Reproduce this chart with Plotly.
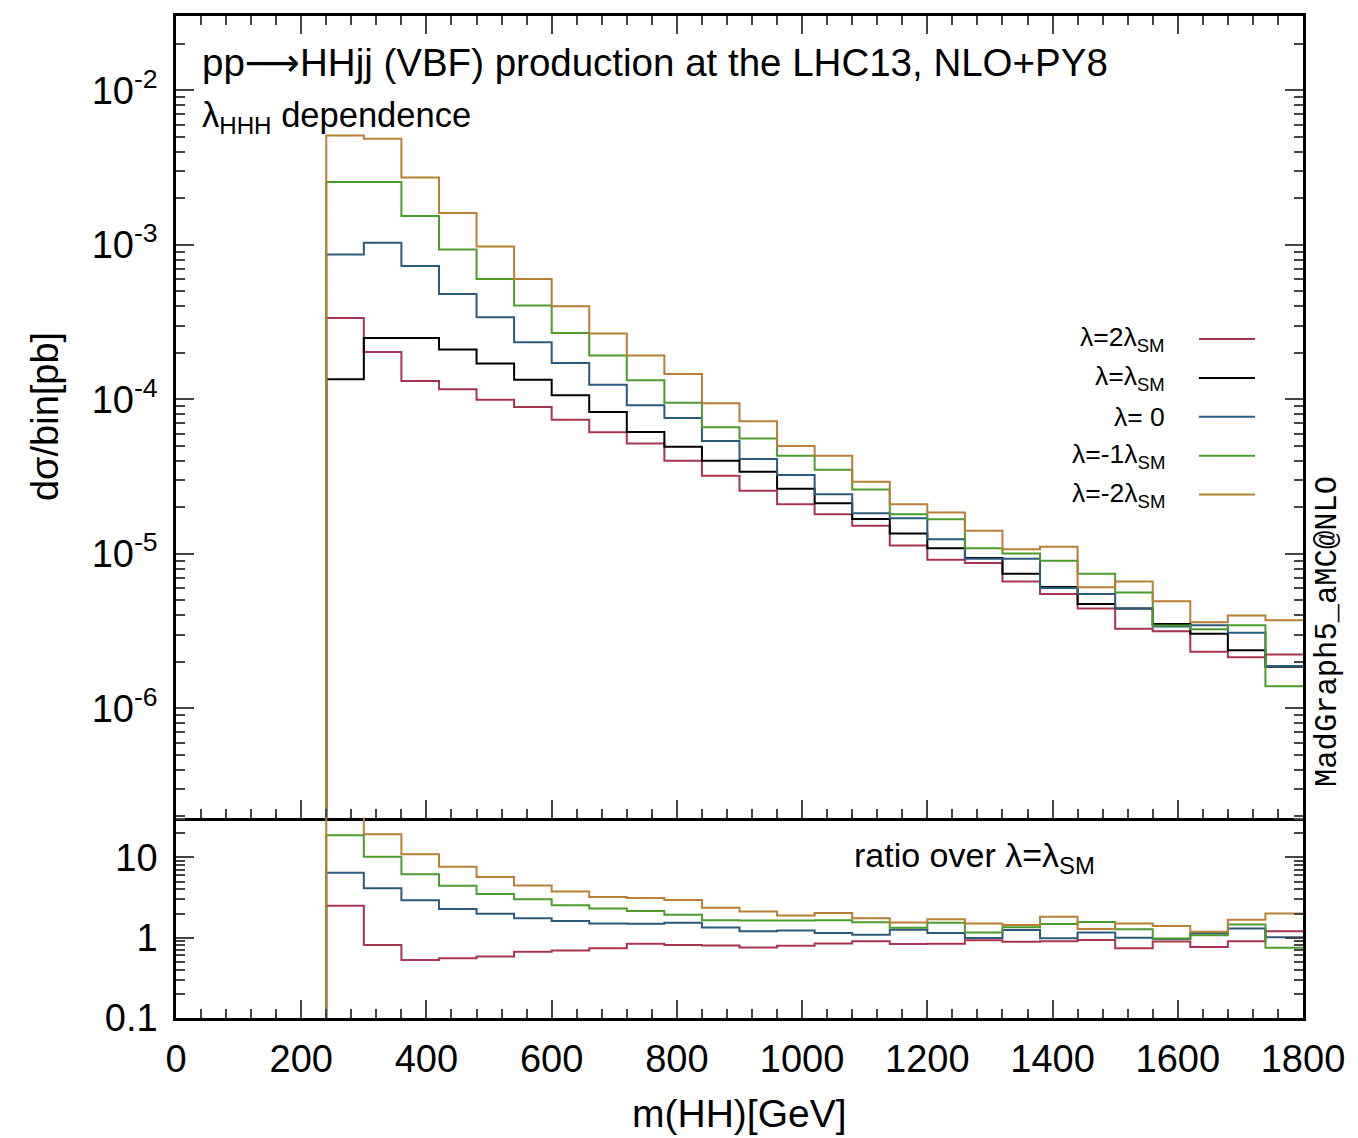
import plotly.graph_objects as go
from plotly.subplots import make_subplots

# bin edges m(HH) [GeV]
edges = [240, 300, 360, 420, 480, 540, 600, 660, 720, 780, 840, 900, 960, 1020,
         1080, 1140, 1200, 1260, 1320, 1380, 1440, 1500, 1560, 1620, 1680, 1740, 1800]

# dsigma/bin [pb]
lam_2sm = [3.36e-4, 2.02e-4, 1.313e-4, 1.16e-4, 9.94e-5, 8.91e-5, 7.38e-5, 6.12e-5, 5.17e-5,
           4.0e-5, 3.2e-5, 2.56e-5, 2.09e-5, 1.80e-5, 1.52e-5, 1.13e-5, 9.15e-6, 8.7e-6,
           6.62e-6, 5.48e-6, 4.42e-6, 3.27e-6, 3.15e-6, 2.32e-6, 2.14e-6, 2.23e-6]
lam_sm = [1.346e-4, 2.49e-4, 2.49e-4, 2.10e-4, 1.706e-4, 1.337e-4, 1.062e-4, 8.28e-5, 6.15e-5,
          4.92e-5, 4.0e-5, 3.40e-5, 2.63e-5, 2.12e-5, 1.68e-5, 1.35e-5, 1.087e-5, 9.37e-6,
          7.43e-6, 6.09e-6, 4.73e-6, 4.42e-6, 3.51e-6, 3.03e-6, 2.37e-6, 1.855e-6]
lam_0 = [8.66e-4, 1.03e-3, 7.28e-4, 4.80e-4, 3.40e-4, 2.34e-4, 1.715e-4, 1.242e-4, 9.15e-5,
         7.57e-5, 5.36e-5, 4.10e-5, 3.24e-5, 2.43e-5, 1.83e-5, 1.70e-5, 1.242e-5, 9.29e-6,
         9.29e-6, 6.0e-6, 5.48e-6, 4.42e-6, 3.38e-6, 3.45e-6, 3.08e-6, 1.875e-6]
lam_m1sm = [2.55e-3, 2.55e-3, 1.538e-3, 9.33e-4, 6.0e-4, 4.04e-4, 2.69e-4, 1.92e-4, 1.327e-4,
            9.51e-5, 6.6e-5, 5.57e-5, 4.31e-5, 3.50e-5, 2.61e-5, 1.80e-5, 1.67e-5, 1.087e-5,
            1.004e-5, 9.0e-6, 7.43e-6, 5.62e-6, 3.43e-6, 3.24e-6, 3.45e-6, 1.39e-6]
lam_m2sm = [5.09e-3, 4.85e-3, 2.73e-3, 1.608e-3, 9.75e-4, 6.0e-4, 4.0e-4, 2.67e-4, 1.92e-4,
            1.456e-4, 9.42e-5, 7.21e-5, 4.98e-5, 4.31e-5, 2.93e-5, 2.09e-5, 1.85e-5, 1.41e-5,
            1.07e-5, 1.11e-5, 6.06e-6, 6.62e-6, 4.92e-6, 3.60e-6, 3.98e-6, 3.71e-6]

labels = ["λ=2λ<sub>SM</sub>", "λ=λ<sub>SM</sub>", "λ= 0", "λ=-1λ<sub>SM</sub>", "λ=-2λ<sub>SM</sub>"]
series = [lam_2sm, lam_sm, lam_0, lam_m1sm, lam_m2sm]
colors = ["#a9344f", "#000000", "#2c5a7c", "#4b9c2c", "#b87f35"]

FONT = "Liberation Sans"


def steps(vals, floor):
    # histogram outline, starting from below the axis range
    x = [edges[0]] + edges
    y = [floor] + vals + [vals[-1]]
    return x, y


fig = make_subplots(rows=2, cols=1, shared_xaxes=True, vertical_spacing=0,
                    row_heights=[0.8, 0.2])

for lab, vals, col in zip(labels, series, colors):
    x, y = steps(vals, 1e-12)
    fig.add_trace(go.Scatter(x=x, y=y, mode="lines", line=dict(color=col, width=2, shape="hv"),
                             name=lab, showlegend=False), row=1, col=1)

# ratio panel
fig.add_hline(y=1, line=dict(color="black", width=2), row=2, col=1)
for lab, vals, col in zip(labels, series, colors):
    if vals is lam_sm:
        continue
    r = [v / s for v, s in zip(vals, lam_sm)]
    x, y = steps(r, 1e-6)
    fig.add_trace(go.Scatter(x=x, y=y, mode="lines", line=dict(color=col, width=2, shape="hv"),
                             showlegend=False), row=2, col=1)

axis_common = dict(showline=True, linewidth=2.5, linecolor="black", showgrid=False,
                   zeroline=False, ticks="inside", tickwidth=2, ticklen=18,
                   tickfont=dict(family=FONT, size=38, color="black"))

fig.update_xaxes(range=[0, 1800], tick0=0, dtick=200,
                 minor=dict(ticks="inside", ticklen=9, tickwidth=2, dtick=40, tick0=0),
                 **axis_common)
fig.update_xaxes(mirror="allticks", showticklabels=False, row=1, col=1)
fig.update_xaxes(mirror=False, showticklabels=True, ticklabelstandoff=6, row=2, col=1)

main_vals = [1e-6, 1e-5, 1e-4, 1e-3, 1e-2]
main_text = ["10<sup>-6</sup>", "10<sup>-5</sup>", "10<sup>-4</sup>", "10<sup>-3</sup>", "10<sup>-2</sup>"]
main_minor = [m * 10.0 ** e for e in range(-7, -1) for m in range(2, 10)]
fig.update_yaxes(type="log", range=[-6.708, -1.519], tickmode="array",
                 tickvals=main_vals, ticktext=main_text, mirror="allticks",
                 ticklabelstandoff=8,
                 minor=dict(ticks="inside", ticklen=9, tickwidth=2, tickmode="array",
                            tickvals=main_minor),
                 row=1, col=1, **axis_common)

ratio_minor = [m * 10.0 ** e for e in range(-1, 2) for m in range(2, 10)]
fig.update_yaxes(type="log", range=[-1.001, 1.497], tickmode="array",
                 tickvals=[0.1, 1, 10], ticktext=["0.1", "1", "10"], mirror="allticks",
                 ticklabelstandoff=8,
                 minor=dict(ticks="inside", ticklen=9, tickwidth=2, tickmode="array",
                            tickvals=ratio_minor),
                 row=2, col=1, **axis_common)

# texts
arrow = "<span style='font-family:DejaVu Sans'>⟶</span>"
ann = [
    dict(x=0.021, y=0.954, text=f"pp{arrow}HHjj (VBF) production at the LHC13, NLO+PY8",
         xanchor="left", yanchor="middle", font=dict(size=38.5)),
    dict(x=0.021, y=0.899, text="λ<sub>HHH</sub> dependence",
         xanchor="left", yanchor="middle", font=dict(size=34.5)),
    dict(x=0.6, y=0.16, text="ratio over λ=λ<sub>SM</sub>",
         xanchor="left", yanchor="middle", font=dict(size=34)),
    dict(x=-0.116, y=0.6, text="dσ/bin[pb]", textangle=-90,
         xanchor="center", yanchor="middle", font=dict(size=38)),
    dict(x=0.5, y=-0.095, text="m(HH)[GeV]",
         xanchor="center", yanchor="middle", font=dict(size=39)),
    dict(x=1.022, y=0.386, text="MadGraph5_aMC@NLO", textangle=-90,
         xanchor="center", yanchor="middle",
         font=dict(size=30.5, family="Liberation Mono")),
]

# legend: label on the left, line sample on the right (gnuplot style)
leg_y = [0.6776, 0.6388, 0.6, 0.5612, 0.5224]
for lab, col, ly in zip(labels, colors, leg_y):
    ann.append(dict(x=0.879, y=ly, text=lab, xanchor="right", yanchor="middle",
                    font=dict(size=26.5)))
    fig.add_shape(type="line", xref="paper", yref="paper", x0=0.9076, x1=0.9574,
                  y0=ly, y1=ly, line=dict(color=col, width=2))

for a in ann:
    a.update(xref="paper", yref="paper", showarrow=False)
    a["font"].setdefault("family", FONT)
    a["font"].setdefault("color", "black")
    fig.add_annotation(**a)

# the page body adds an 8px offset, so the figure is a bit smaller than the window
fig.update_layout(width=1350, height=1130, plot_bgcolor="white", paper_bgcolor="white",
                  margin=dict(l=168, r=55, t=5, b=120),
                  font=dict(family=FONT, color="black"))

fig.write_html("out.html")
